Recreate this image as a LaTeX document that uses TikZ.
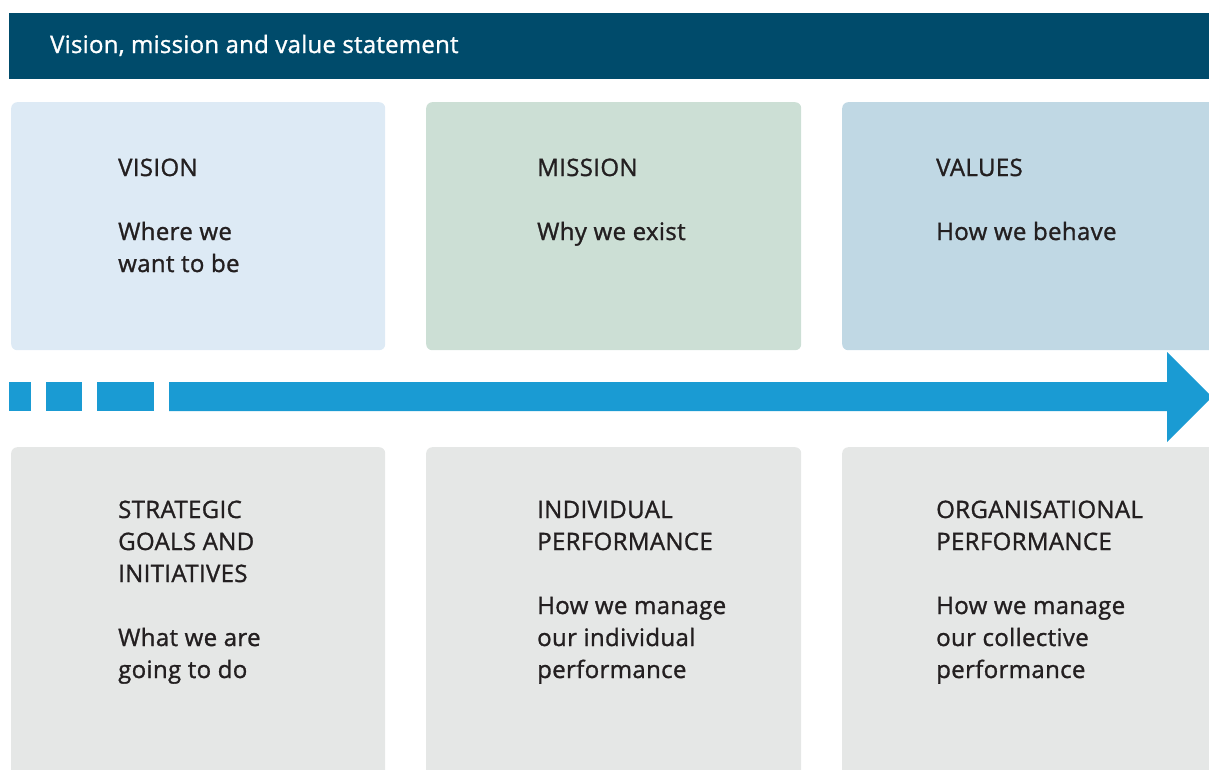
\documentclass[tikz,border=0pt]{standalone}
\usepackage{fontspec}
\setmainfont{Open Sans}[LetterSpace=1.5,FakeBold=1.2]
\newfontfamily\hdrfont{Open Sans}[LetterSpace=1,FakeBold=1.2]
\definecolor{hdr}{RGB}{0,75,107}
\definecolor{visionc}{RGB}{221,234,245}
\definecolor{missionc}{RGB}{204,223,213}
\definecolor{valuesc}{RGB}{192,216,228}
\definecolor{greyc}{RGB}{229,231,230}
\definecolor{arrowc}{RGB}{26,155,211}
\definecolor{txt}{RGB}{35,31,32}
\begin{document}
\begin{tikzpicture}[x=1pt,y=-1pt,
  box/.style={rectangle, rounded corners=6pt, draw=none, anchor=north west, inner sep=0pt},
  lbl/.style={anchor=base west, align=left, inner sep=0pt, text=txt, font=\fontsize{24}{32}\selectfont},
  dashpart/.style={fill=arrowc}]
\useasboundingbox (0,0) rectangle (1209,769);
\clip (0,0) rectangle (1209,769);
% header
\node[rectangle, fill=hdr, anchor=north west, minimum width=1210pt, minimum height=66pt, inner sep=0pt] (header) at (9,13) {};
\node[anchor=base west, inner sep=0pt, text=white, font=\hdrfont\fontsize{24}{30}\selectfont] (title) at (50,53) {Vision, mission and value statement};
% top boxes
\node[box, fill=visionc, minimum width=374pt, minimum height=248pt] (vision) at (11,102) {};
\node[box, fill=missionc, minimum width=375pt, minimum height=248pt] (mission) at (426,102) {};
\node[box, fill=valuesc, minimum width=380pt, minimum height=248pt] (values) at (842,102) {};
% bottom boxes
\node[box, fill=greyc, minimum width=374pt, minimum height=340pt] (goals) at (11,447) {};
\node[box, fill=greyc, minimum width=375pt, minimum height=340pt] (indiv) at (426,447) {};
\node[box, fill=greyc, minimum width=380pt, minimum height=340pt] (org) at (842,447) {};
% arrow
\fill[dashpart] (9,382) rectangle (31,411);
\fill[dashpart] (46,382) rectangle (82,411);
\fill[dashpart] (97,382) rectangle (154,411);
\fill[dashpart] (169,382) -- (1167,382) -- (1167,352) -- (1212,397) -- (1167,442) -- (1167,411) -- (169,411) -- cycle;
% texts (anchored at the baseline of the last line)
\node[lbl] (visiont) at (118,272) {VISION\\[32pt]Where we\\want to be};
\node[lbl] (missiont) at (537,240) {MISSION\\[32pt]Why we exist};
\node[lbl] (valuest) at (936,240) {VALUES\\[32pt]How we behave};
\node[lbl] (goalst) at (118,678) {STRATEGIC\\GOALS AND\\INITIATIVES\\[32pt]What we are\\going to do};
\node[lbl] (indivt) at (537,678) {INDIVIDUAL\\PERFORMANCE\\[32pt]How we manage\\our individual\\performance};
\node[lbl] (orgt) at (936,678) {ORGANISATIONAL\\PERFORMANCE\\[32pt]How we manage\\our collective\\performance};
\end{tikzpicture}
\end{document}
